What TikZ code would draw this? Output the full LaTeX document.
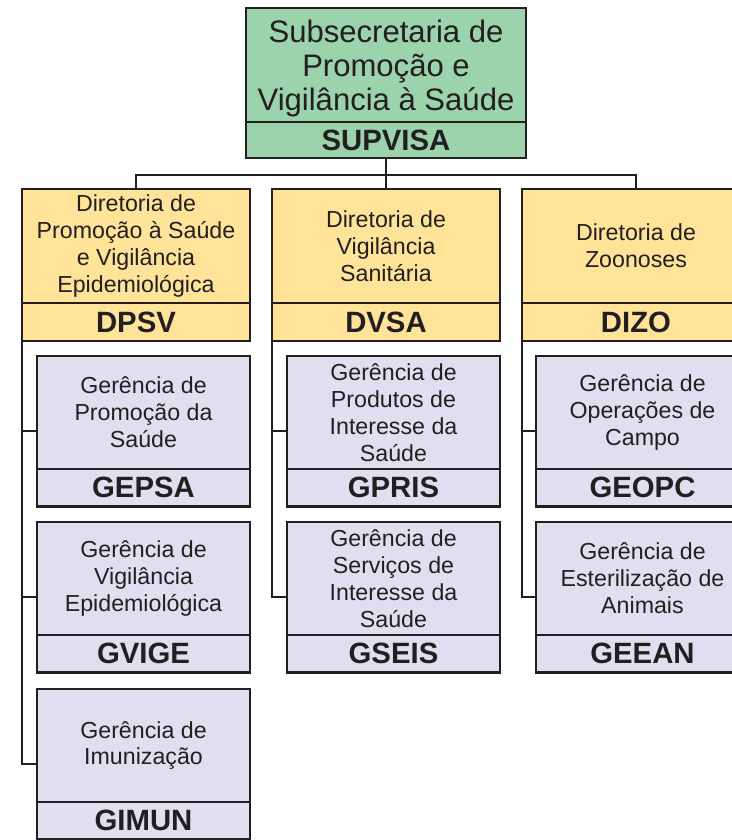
\documentclass[tikz,border=0pt]{standalone}
\usepackage{fontspec}
\setmainfont{Liberation Sans}
\usepackage{xcolor}
\usetikzlibrary{calc}

\definecolor{supgreen}{RGB}{154,211,172}
\definecolor{diryellow}{RGB}{254,227,153}
\definecolor{gerlilac}{RGB}{223,223,239}
\definecolor{inkgray}{RGB}{35,31,32}

\begin{document}
\begin{tikzpicture}[x=0.75pt,y=0.75pt,yscale=-1,xscale=1,
  box/.style={draw=inkgray,line width=1.9pt,inner sep=0pt,outer sep=0pt,align=center,text=inkgray},
  subtitle/.style={box,fill=supgreen,anchor=north west,minimum width=210pt,minimum height=85.5pt,text depth=0pt,font=\fontsize{23.3}{25.4}\selectfont},
  subcode/.style={box,fill=supgreen,anchor=north,minimum width=210pt,minimum height=27pt,font=\fontsize{22}{24}\selectfont\bfseries},
  dirtitle/.style={box,fill=diryellow,anchor=north west,minimum width=171pt,minimum height=85.5pt,font=\fontsize{17.4}{20.2}\selectfont},
  dircode/.style={box,fill=diryellow,anchor=north,minimum width=171pt,minimum height=28.5pt,font=\fontsize{22}{24}\selectfont\bfseries},
  gertitle/.style={box,fill=gerlilac,anchor=north west,minimum width=159.75pt,minimum height=84.75pt,font=\fontsize{17.4}{20.2}\selectfont},
  gercode/.style={box,fill=gerlilac,anchor=north,minimum width=159.75pt,minimum height=28pt,font=\fontsize{22}{24}\selectfont\bfseries},
  conn/.style={draw=inkgray,line width=1.5pt}]
\useasboundingbox (0,0) rectangle (732,840);
\clip (0,0) rectangle (732,840);

%Shape: Subsecretaria
\node [subtitle] (supvisa) at (246,8) {Subsecretaria de\\Promoção e\\Vigilância à Saúde};
\node [subcode] (supvisac) at (supvisa.south) {SUPVISA};

%Shape: Diretorias
\node [dirtitle] (dpsv) at (22,189) {Diretoria de\\Promoção à Saúde\\e Vigilância\\Epidemiológica};
\node [dircode] (dpsvc) at (dpsv.south) {DPSV};
\node [dirtitle] (dvsa) at (272,189) {Diretoria de\\Vigilância\\Sanitária};
\node [dircode] (dvsac) at (dvsa.south) {DVSA};
\node [dirtitle] (dizo) at (522,189) {Diretoria de\\Zoonoses};
\node [dircode] (dizoc) at (dizo.south) {DIZO};

%Shape: Gerencias DPSV
\node [gertitle] (gepsa) at (37,356) {Gerência de\\Promoção da\\Saúde};
\node [gercode] (gepsac) at (gepsa.south) {GEPSA};
\node [gertitle] (gvige) at (37,522) {Gerência de\\Vigilância\\Epidemiológica};
\node [gercode] (gvigec) at (gvige.south) {GVIGE};
\node [gertitle] (gimun) at (37,689) {Gerência de\\Imunização};
\node [gercode] (gimunc) at (gimun.south) {GIMUN};

%Shape: Gerencias DVSA
\node [gertitle] (gpris) at (287,356) {Gerência de\\Produtos de\\Interesse da\\Saúde};
\node [gercode] (gprisc) at (gpris.south) {GPRIS};
\node [gertitle] (gseis) at (287,522) {Gerência de\\Serviços de\\Interesse da\\Saúde};
\node [gercode] (gseisc) at (gseis.south) {GSEIS};

%Shape: Gerencias DIZO
\node [gertitle] (geopc) at (536,356) {Gerência de\\Operações de\\Campo};
\node [gercode] (geopcc) at (geopc.south) {GEOPC};
\node [gertitle] (geean) at (536,522) {Gerência de\\Esterilização de\\Animais};
\node [gercode] (geeanc) at (geean.south) {GEEAN};

%Straight Lines: top bus
\coordinate (bus) at ($(supvisac.south)+(0,17)$);
\draw [conn] (supvisac.south) -- (bus);
\draw [conn] (bus) -- (bus |- dvsa.north);
\draw [conn] (bus) -| (dpsv.north);
\draw [conn] (bus) -| (dizo.north);

%Straight Lines: branch points
\coordinate (gepsaw) at ($(gepsa.north west)!.5!(gepsac.south west)$);
\coordinate (gvigew) at ($(gvige.north west)!.5!(gvigec.south west)$);
\coordinate (gimunw) at ($(gimun.north west)!.5!(gimunc.south west)$);
\coordinate (gprisw) at ($(gpris.north west)!.5!(gprisc.south west)$);
\coordinate (gseisw) at ($(gseis.north west)!.5!(gseisc.south west)$);
\coordinate (geopcw) at ($(geopc.north west)!.5!(geopcc.south west)$);
\coordinate (geeanw) at ($(geean.north west)!.5!(geeanc.south west)$);

%Straight Lines: DPSV
\draw [conn] (dpsvc.south west) |- (gimunw);
\draw [conn] (gepsaw -| dpsvc.south west) -- (gepsaw);
\draw [conn] (gvigew -| dpsvc.south west) -- (gvigew);
%Straight Lines: DVSA
\draw [conn] (dvsac.south west) |- (gseisw);
\draw [conn] (gprisw -| dvsac.south west) -- (gprisw);
%Straight Lines: DIZO
\draw [conn] (dizoc.south west) |- (geeanw);
\draw [conn] (geopcw -| dizoc.south west) -- (geopcw);

\end{tikzpicture}
\end{document}
